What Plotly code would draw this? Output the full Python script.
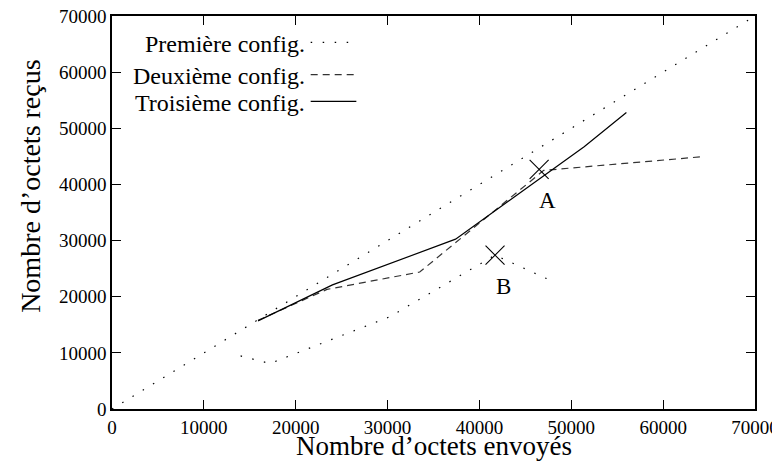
import plotly.graph_objects as go

# diagonale de référence (reçu = envoyé)
diag_x = [0, 70000]
diag_y = [0, 70000]

# Première config.
c1_x = [14000, 17200, 30200, 41700, 48300]
c1_y = [9450, 8100, 16400, 27400, 22500]

# Deuxième config.
c2_x = [15900, 23400, 33500, 47000, 64000]
c2_y = [15800, 21300, 24400, 42500, 44900]

# Troisième config.
c3_x = [15900, 24000, 37400, 51400, 56000]
c3_y = [15700, 22100, 30250, 46700, 52800]

# points remarquables
pts_x = [46500, 41700]
pts_y = [42700, 27400]
pts_lab = ['A', 'B']

noms = ['Première config.', 'Deuxième config.', 'Troisième config.']

police = 'Liberation Serif'
DOT = '1.5px,10.5px'
DASH = '7px,5px'

fig = go.Figure()

fig.add_trace(go.Scatter(x=diag_x, y=diag_y, mode='lines', showlegend=False,
                         line=dict(color='black', width=1.2, dash=DOT)))
fig.add_trace(go.Scatter(x=c1_x, y=c1_y, mode='lines', name=noms[0], showlegend=False,
                         line=dict(color='black', width=1.2, dash=DOT)))
fig.add_trace(go.Scatter(x=c2_x, y=c2_y, mode='lines', name=noms[1], showlegend=False,
                         line=dict(color='#333333', width=1.2, dash=DASH)))
fig.add_trace(go.Scatter(x=c3_x, y=c3_y, mode='lines', name=noms[2], showlegend=False,
                         line=dict(color='black', width=1.2)))
fig.add_trace(go.Scatter(x=pts_x, y=pts_y, mode='markers', showlegend=False,
                         marker=dict(symbol='x-thin', size=19,
                                     line=dict(color='black', width=1.1))))

# étiquettes A et B
for x, y, t in zip(pts_x, pts_y, pts_lab):
    fig.add_annotation(x=x, y=y, text=t, showarrow=False, xshift=8, yshift=-31,
                       font=dict(family=police, size=23, color='black'))

# légende façon gnuplot : texte aligné à droite, échantillon à droite
styles = [('black', DOT), ('#333333', DASH), ('black', 'solid')]
ys = [0.929, 0.847, 0.779]
for nom, (col, d), yy in zip(noms, styles, ys):
    fig.add_annotation(xref='paper', yref='paper', x=0.303, y=yy, text=nom,
                       showarrow=False, xanchor='right', yanchor='middle',
                       font=dict(family=police, size=24, color='black'))
    fig.add_shape(type='line', xref='paper', yref='paper',
                  x0=0.309, x1=0.38, y0=yy + 0.004, y1=yy + 0.004,
                  line=dict(color=col, width=1.2, dash=d))

# titres des axes
fig.add_annotation(xref='paper', yref='paper', x=-0.128, y=0.567,
                   text="Nombre d’octets reçus", textangle=-90, showarrow=False,
                   xanchor='center', yanchor='middle',
                   font=dict(family=police, size=28, color='black'))
fig.add_annotation(xref='paper', yref='paper', x=0.5, y=-0.093,
                   text="Nombre d’octets envoyés", showarrow=False,
                   xanchor='center', yanchor='middle',
                   font=dict(family=police, size=27, color='black'))

axe = dict(range=[0, 70000], dtick=10000, tickformat='d', showgrid=False,
           zeroline=False, automargin=False, ticklabeloverflow='allow',
           showline=True, linecolor='black', linewidth=1.5, mirror='ticks',
           ticks='inside', ticklen=9, tickwidth=1, tickcolor='black',
           tickfont=dict(family=police, size=19, color='black'))

# la page ajoute 8 px de marge autour du graphique
fig.update_layout(
    width=772, height=455,
    margin=dict(l=104, r=25, t=8, b=54),
    paper_bgcolor='white', plot_bgcolor='white',
    xaxis=dict(axe),
    yaxis=dict(axe),
)

fig.write_html("out.html")
